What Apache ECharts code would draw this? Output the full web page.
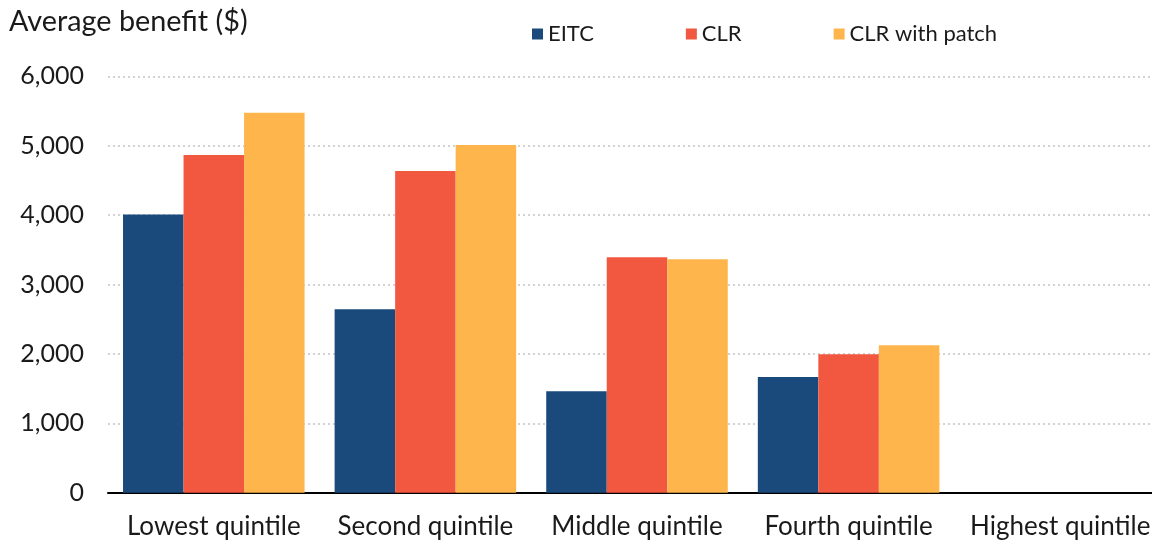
<!DOCTYPE html>
<html>
<head>
<meta charset="utf-8">
<script src="https://cdn.jsdelivr.net/npm/echarts@6/dist/echarts.min.js"></script>
<style>
  html, body { margin: 0; padding: 0; background: #ffffff; }
  #chart { width: 1152px; height: 544px; }
</style>
</head>
<body>
<div id="chart"></div>
<script>
// Average benefit by income quintile
const categories = ['Lowest quintile', 'Second quintile', 'Middle quintile', 'Fourth quintile', 'Highest quintile'];
const eitc = [4010, 2645, 1462, 1667, 0];
const clr = [4866, 4636, 3392, 1995, 0];
const clrPatch = [5476, 5010, 3363, 2124, 0];
const yTicks = [0, 1000, 2000, 3000, 4000, 5000, 6000];

const FONT = 'Lato, "Open Sans", sans-serif';
const TEXT = '#1a1a1a';

const chart = echarts.init(document.getElementById('chart'), null, { renderer: 'canvas' });

chart.setOption({
  animation: false,
  backgroundColor: '#ffffff',
  title: {
    text: 'Average benefit ($)',
    left: 9,
    top: 7,
    padding: 0,
    textStyle: { fontFamily: FONT, fontSize: 28.8, fontWeight: 'normal', color: TEXT }
  },
  legend: {
    left: 532,
    top: 23,
    padding: 0,
    itemWidth: 11,
    itemHeight: 11,
    itemGap: 92,
    icon: 'rect',
    textStyle: { fontFamily: FONT, fontSize: 22, color: TEXT },
    data: ['EITC', 'CLR', 'CLR with patch']
  },
  grid: {
    left: 108,
    top: 76.3,
    width: 1058,
    bottom: 51.3,
    containLabel: false,
    outerBoundsMode: 'none'
  },
  xAxis: {
    type: 'category',
    data: categories,
    axisLine: { show: true, lineStyle: { color: '#000000', width: 2 } },
    axisTick: { show: false },
    axisLabel: { fontFamily: FONT, fontSize: 26, color: TEXT, margin: 21, interval: 0 }
  },
  yAxis: {
    type: 'value',
    min: yTicks[0],
    max: yTicks[yTicks.length - 1],
    interval: 1000,
    axisLine: { show: false },
    axisTick: { show: false },
    axisLabel: {
      fontFamily: FONT, fontSize: 25, color: TEXT, margin: 24,
      formatter: v => v.toLocaleString('en-US')
    },
    splitLine: { show: true, lineStyle: { color: '#c4c4c4', width: 1.5, type: [2, 3] } }
  },
  series: [
    { name: 'EITC', type: 'bar', data: eitc, itemStyle: { color: '#1a4a7b' }, barGap: '0%', barCategoryGap: '14.2%' },
    { name: 'CLR', type: 'bar', data: clr, itemStyle: { color: '#f1583f' }, barGap: '0%', barCategoryGap: '14.2%' },
    { name: 'CLR with patch', type: 'bar', data: clrPatch, itemStyle: { color: '#fdb54c' }, barGap: '0%', barCategoryGap: '14.2%' }
  ]
});
</script>
</body>
</html>
